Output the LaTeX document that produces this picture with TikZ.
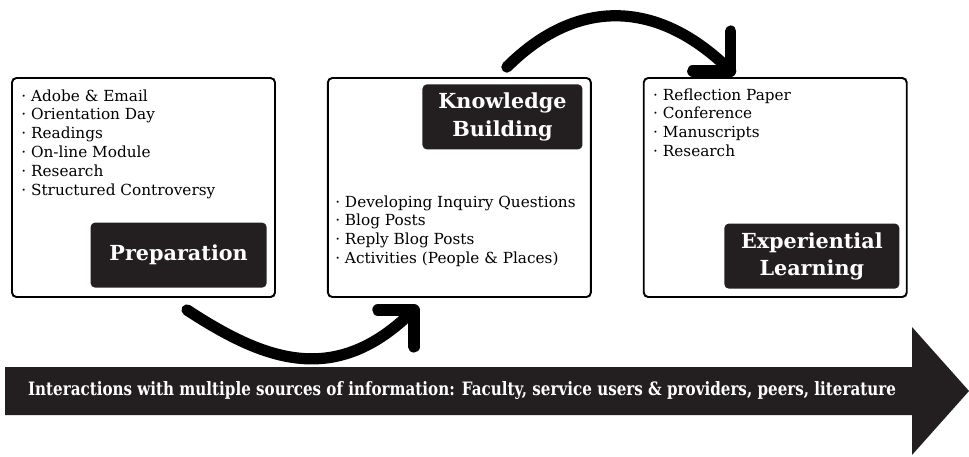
\documentclass[tikz,border=0pt]{standalone}
\usepackage{fontspec}
\setmainfont{DejaVu Serif}
\usetikzlibrary{chains,positioning,calc}
\definecolor{ink}{HTML}{231F20}

\begin{document}
\begin{tikzpicture}[
x=0.02cm, y=-0.02cm,
mybox/.style={
  draw,
  line width=1.1pt,
  rounded corners=2.5pt,
  minimum width=5.26cm,
  minimum height=4.38cm,
  inner sep=0pt
  },
mylabel/.style={
  fill=ink,
  text=white,
  rounded corners=2.5pt,
  align=center,
  minimum height=1.3cm,
  inner sep=0pt,
  font=\fontsize{11.8}{15.5}\selectfont\bfseries
  },
mylist/.style={
  align=left,
  inner sep=0pt,
  anchor=north west,
  font=\fontsize{8.7}{10.8}\selectfont
  },
swoop/.style={line width=6.4pt, line cap=round, line join=round},
start chain=going right,
node distance=1.02cm
]
\useasboundingbox (0,0) rectangle (969,456);

% the three stages
\node[mybox,on chain] (prep) at (143.5,187.5) {};
\foreach \Name in {know,expe}
  \node[mybox,on chain] (\Name) {};

\node[mylabel,minimum width=3.52cm,anchor=south east] (preplab)
  at ($(prep.south east)+(-9,-10)$) {Preparation};
\node[mylabel,minimum width=3.2cm,anchor=north east] (knowlab)
  at ($(know.north east)+(-9,7)$) {Knowledge\\Building};
\node[mylabel,minimum width=3.5cm,anchor=south east] (expelab)
  at ($(expe.south east)+(-8,-9)$) {Experiential\\Learning};

\node[mylist] (preplist) at ($(prep.north west)+(10,12)$)
  {· Adobe \& Email\\· Orientation Day\\· Readings\\· On-line Module\\· Research\\· Structured Controversy};
\node[mylist] (knowlist) at ($(know.north west)+(8,118)$)
  {· Developing Inquiry Questions\\· Blog Posts\\· Reply Blog Posts\\· Activities (People \& Places)};
\node[mylist] (expelist) at ($(expe.north west)+(10,11)$)
  {· Reflection Paper\\· Conference\\· Manuscripts\\· Research};

% curved arrows between stages
\coordinate (b1) at ($(prep.south)+(43.5,12)$);
\coordinate (b2) at ($(know.south)+(-45.5,12)$);
\coordinate (t1) at ($(know.north)+(47.5,-10)$);
\coordinate (t2) at ($(expe.north)+(-44.5,-6)$);
\draw[swoop] (b1) .. controls +(78,51) and +(-78,78) .. (b2);
\draw[swoop] (b2) ++(-36,0) -- (b2) -- ++(0,37);
\draw[swoop] (t1) .. controls +(71,-71) and +(-71,-71) .. (t2);
\draw[swoop] (t2) ++(-38,0) -- (t2) -- ++(0,-40);

% big arrow underneath
\fill[ink] (5,367) -- (912,367) -- (912,327) -- (969,391) -- (912,455)
  -- (912,415) -- (5,415) -- cycle;
\node[text=white,inner sep=0pt] (band) at (462,391)
  {\resizebox{17.36cm}{0.28cm}{\bfseries Interactions with multiple sources of information: Faculty, service users \& providers, peers, literature}};
\end{tikzpicture}
\end{document}
